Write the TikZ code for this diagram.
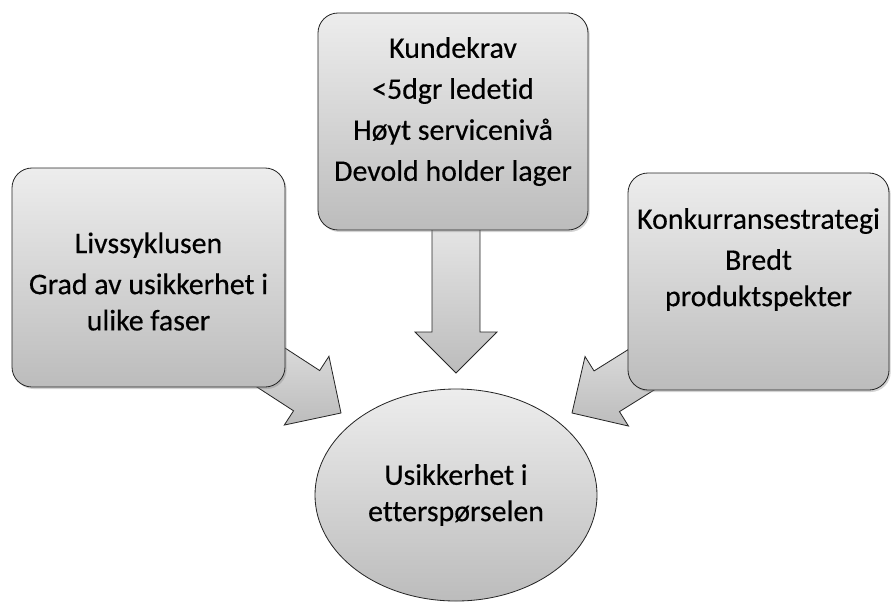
\documentclass[tikz,border=0pt]{standalone}
\usepackage{fontspec}
\setmainfont[Ligatures={NoCommon}, FakeBold=0.35]{Carlito}
\usetikzlibrary{shapes.geometric, shadows, positioning, calc}

\definecolor{boxtop}{HTML}{EDEDED}
\definecolor{boxbot}{HTML}{BCBCBC}
\definecolor{edge}{HTML}{262626}

\begin{document}
\begin{tikzpicture}[x=0.03cm, y=-0.03cm, font=\fontsize{25.5}{31}\selectfont,
    card/.style={draw=edge, line width=0.7pt, rounded corners=0.6cm,
      top color=boxtop, bottom color=boxbot,
      drop shadow={opacity=0.35, shadow xshift=0.05cm, shadow yshift=-0.06cm}},
    cardtext/.style={align=center},
    blockarrow/.style={draw=edge, line width=0.7pt, top color=boxtop, bottom color=boxbot}]
  \useasboundingbox (0,0) rectangle (891,605);
  % tips of the block arrows
  \coordinate (tipL) at (341,413);
  \coordinate (tipK) at (456,373);
  \coordinate (tipR) at (572,413);
  % block arrows (drawn first, boxes hide their tails)
  \foreach \tip/\ang in {tipL/-33, tipK/-90, tipR/-148}{
    \begin{scope}[shift={(\tip)}, rotate=\ang]
      \draw[blockarrow] (0,0) -- (-41,41) -- (-41,24) -- (-175,24)
        -- (-175,-24) -- (-41,-24) -- (-41,-41) -- cycle;
    \end{scope}
  }
  % the three boxes
  \node[card, minimum width=8.19cm, minimum height=6.57cm] (livs) at (148.5,277.5) {};
  \node[card, minimum width=8.1cm, minimum height=6.51cm] (kunde) at (453,121.5) {};
  \node[card, minimum width=7.83cm, minimum height=6.51cm] (konk) at (758.5,281.5) {};
  \node[cardtext] (livstxt) at ([yshift=-0.12cm]livs.center)
    {Livssyklusen\\[4pt]Grad av usikkerhet i\\ulike faser};
  \node[cardtext] (kundetxt) at ([yshift=0.3cm]kunde.center)
    {Kundekrav\\[4pt]<5dgr ledetid\\[4pt]Høyt servicenivå\\[4pt]Devold holder lager};
  \node[cardtext] (konktxt) at ([yshift=0.66cm]konk.center)
    {Konkurransestrategi\\[4pt]Bredt\\produktspekter};
  % centre ellipse
  \node[ellipse, draw=edge, line width=0.7pt, top color=boxtop, bottom color=boxbot,
    minimum width=8.46cm, minimum height=6.36cm, align=center] (usik) at (456,495)
    {Usikkerhet i\\etterspørselen};
\end{tikzpicture}
\end{document}
